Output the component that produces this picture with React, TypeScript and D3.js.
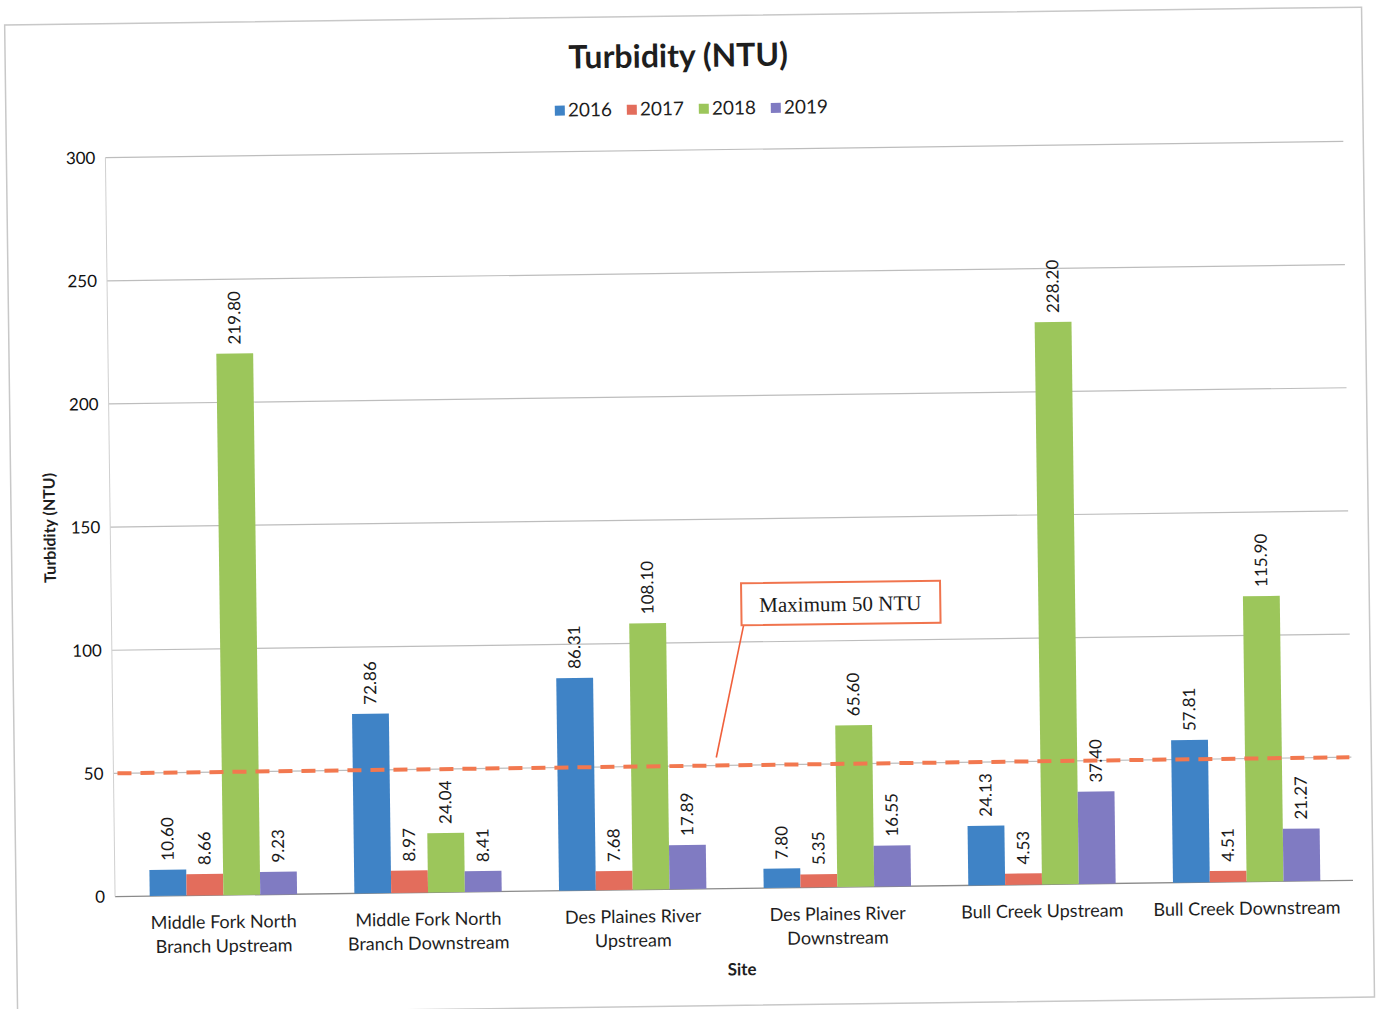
import React from 'react';
import * as d3 from 'd3';

// values
const sites = [
  ['Middle Fork North', 'Branch Upstream'],
  ['Middle Fork North', 'Branch Downstream'],
  ['Des Plaines River', 'Upstream'],
  ['Des Plaines River', 'Downstream'],
  ['Bull Creek Upstream'],
  ['Bull Creek Downstream'],
];
const years = ['2016', '2017', '2018', '2019'];
const v2016 = [10.6, 72.86, 86.31, 7.8, 24.13, 57.81];
const v2017 = [8.66, 8.97, 7.68, 5.35, 4.53, 4.51];
const v2018 = [219.8, 24.04, 108.1, 65.6, 228.2, 115.9];
const v2019 = [9.23, 8.41, 17.89, 16.55, 37.4, 21.27];
const yTicks = [0, 50, 100, 150, 200, 250, 300];
const limit = 50;

const COLORS = ['#3f83c6', '#e36d5c', '#9cc65b', '#807bc2'];
const FONT = 'Lato, "Open Sans", sans-serif';

export default function App() {
  const W = 1378, H = 1009;
  const left = 116, right = 1344, top = 150, bottom = 889;
  const series = [v2016, v2017, v2018, v2019];
  const keys = sites.map(s => s.join(' '));

  const x0 = d3.scaleBand<string>().domain(keys).range([left, right]).paddingInner(0.28).paddingOuter(0.14);
  const x1 = d3.scaleBand<string>().domain(years).range([0, x0.bandwidth()]).padding(0);
  const y = d3.scaleLinear().domain([0, 300]).range([bottom, top]);

  return (
    <svg width={W} height={H} style={{ position: 'absolute', left: 0, top: 0, background: '#fff' }}>
      <g transform={`rotate(-0.75, 690, 505)`}>
        {/* outer frame */}
        <rect x={11} y={16} width={1357} height={990} fill="#fff" stroke="#c8c8c8" strokeWidth={1.5} />

        <text x={684} y={67} textAnchor="middle" fontFamily={FONT} fontWeight="bold" fontSize={32} fill="#1e1e1e">
          Turbidity (NTU)
        </text>

        {/* legend */}
        {years.map((yr, i) => {
          const lx = 560 + i * 72;
          return (
            <g key={yr}>
              <rect x={lx} y={104} width={10} height={10} fill={COLORS[i]} />
              <text x={lx + 13} y={115} fontFamily={FONT} fontSize={19} fill="#1e1e1e">{yr}</text>
            </g>
          );
        })}

        {/* grid */}
        {yTicks.filter(t => t > 0).map(t => (
          <line key={t} x1={left - 6} x2={right + 4} y1={y(t)} y2={y(t)} stroke="#bdbdbd" strokeWidth={1.2} />
        ))}
        <line x1={left - 6} x2={right + 4} y1={y(0)} y2={y(0)} stroke="#8a8a8a" strokeWidth={1.3} />
        <line x1={left - 6} x2={left - 6} y1={top} y2={bottom} stroke="#d0d0d0" strokeWidth={1} />

        {yTicks.map(t => (
          <text key={t} x={left - 16} y={y(t) + 6} textAnchor="end" fontFamily={FONT} fontSize={17} fill="#111">{t}</text>
        ))}

        <text transform={`translate(55,${(top + bottom) / 2}) rotate(-90)`} textAnchor="middle"
          fontFamily={FONT} fontWeight="bold" fontSize={16} fill="#1e1e1e">Turbidity (NTU)</text>

        {/* bars */}
        {keys.map((k, gi) => (
          <g key={k} transform={`translate(${x0(k)},0)`}>
            {years.map((yr, si) => {
              const v = series[si][gi];
              const bx = x1(yr) as number;
              const bw = x1.bandwidth();
              return (
                <g key={yr}>
                  <rect x={bx} y={y(v)} width={bw} height={y(0) - y(v)} fill={COLORS[si]} />
                  <text transform={`translate(${bx + bw / 2 + 6},${y(v) - 9}) rotate(-90)`}
                    fontFamily={FONT} fontSize={17} fill="#1a1a1a">{v.toFixed(2)}</text>
                </g>
              );
            })}
          </g>
        ))}

        {/* category labels */}
        {sites.map((lines, gi) => {
          const cx = (x0(keys[gi]) as number) + x0.bandwidth() / 2;
          return (
            <text key={gi} x={cx} y={922} textAnchor="middle" fontFamily={FONT} fontSize={18} fill="#1e1e1e">
              {lines.map((ln, li) => (
                <tspan key={li} x={cx} dy={li === 0 ? 0 : 24}>{ln}</tspan>
              ))}
            </text>
          );
        })}
        <text x={(left + right) / 2 + 6} y={976} textAnchor="middle" fontFamily={FONT} fontWeight="bold" fontSize={17} fill="#1e1e1e">Site</text>

        {/* 50 NTU limit */}
        <line x1={left - 2} x2={right + 2} y1={y(limit)} y2={y(limit)} stroke="#f2784f" strokeWidth={4}
          strokeDasharray="14 9" />
        <line x1={742} y1={626} x2={713} y2={y(limit) - 8} stroke="#f0603c" strokeWidth={1.6} />
        <rect x={740} y={584} width={199} height={42} fill="#fff" stroke="#f0744e" strokeWidth={2} />
        <text x={839} y={613} textAnchor="middle" fontFamily='"Liberation Serif", "DejaVu Serif", serif' fontSize={21} fill="#1a1a1a">
          Maximum 50 NTU
        </text>
      </g>
    </svg>
  );
}
